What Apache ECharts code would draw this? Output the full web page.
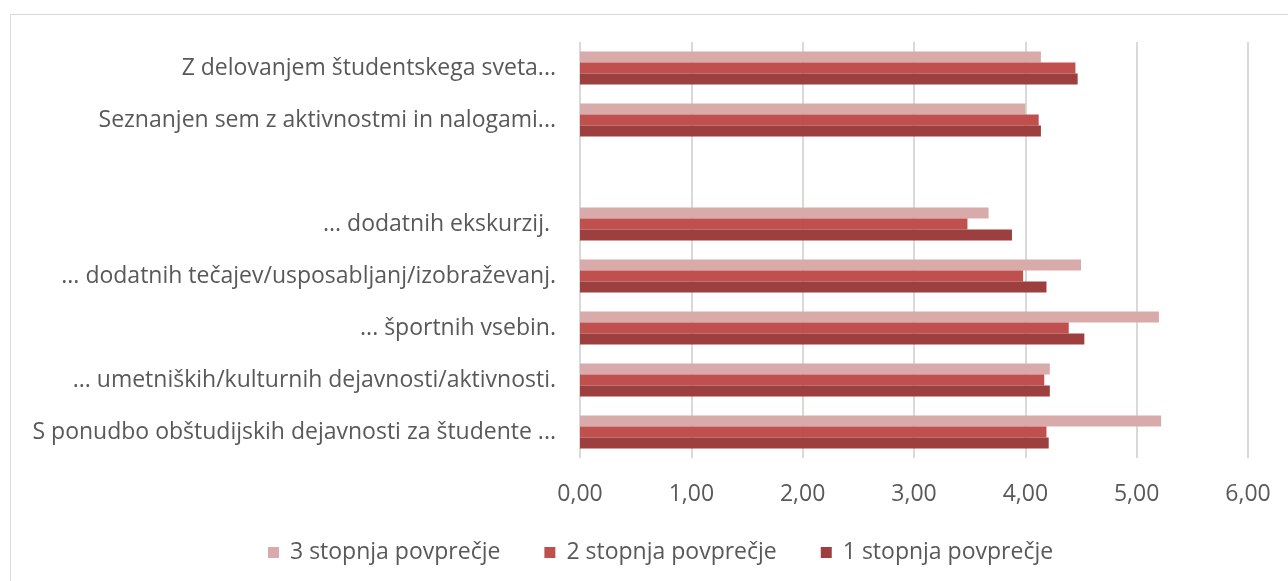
<!DOCTYPE html>
<html>
<head>
<meta charset="utf-8">
<title>Povprečja po stopnjah</title>
<script src="https://cdn.jsdelivr.net/npm/echarts@6/dist/echarts.min.js"></script>
<style>
  html, body { margin: 0; padding: 0; background: #fff; }
  #chart { width: 1288px; height: 581px; }
</style>
</head>
<body>
<div id="chart"></div>
<script>
// kategorije od spodaj navzgor (prazna vrstica je v originalu)
const categories = [
  'S ponudbo obštudijskih dejavnosti za študente ...',
  '... umetniških/kulturnih dejavnosti/aktivnosti.',
  '... športnih vsebin.',
  '... dodatnih tečajev/usposabljanj/izobraževanj.',
  '... dodatnih ekskurzij. ',
  '',
  'Seznanjen sem z aktivnostmi in nalogami...',
  'Z delovanjem študentskega sveta...'
]
const stopnja1 = [4.21, 4.22, 4.53, 4.19, 3.88, null, 4.14, 4.47]
const stopnja2 = [4.19, 4.17, 4.39, 3.98, 3.48, null, 4.12, 4.45]
const stopnja3 = [5.22, 4.22, 5.20, 4.50, 3.67, null, 4.00, 4.14]
// v echarts je prva serija zgoraj, zato 3 -> 2 -> 1
const seriesNames = ['3 stopnja povprečje', '2 stopnja povprečje', '1 stopnja povprečje']
const colors = ['#D9AAAA', '#C0504D', '#9C3F3E']

const font = 'Open Sans'
const chartInstance = echarts.init(document.getElementById('chart'))
const option = {
  animation: false,
  textStyle: { fontFamily: font },
  graphic: [
    {
      type: 'rect',
      shape: { x: 10.5, y: 14.5, width: 1300, height: 600 },
      style: { fill: 'none', stroke: '#d9d9d9', lineWidth: 1 },
      silent: true
    }
  ],
  legend: {
    data: seriesNames,
    top: 536,
    left: 263,
    itemWidth: 11,
    itemHeight: 11,
    itemGap: 44,
    icon: 'rect',
    textStyle: { fontSize: 23, color: '#595959', fontFamily: font, padding: [0, 0, 0, 6] }
  },
  grid: {
    left: 580,
    right: 40,
    top: 42,
    bottom: 123,
    containLabel: false
  },
  xAxis: {
    type: 'value',
    min: 0,
    max: 6,
    interval: 1,
    axisLine: { show: false },
    axisTick: { show: false },
    splitLine: { lineStyle: { color: '#d9d9d9', width: 2 } },
    axisLabel: {
      margin: 25,
      fontSize: 23,
      color: '#595959',
      formatter: v => v.toFixed(2).replace('.', ',')
    }
  },
  yAxis: {
    type: 'category',
    data: categories,
    axisLine: { show: false },
    axisTick: { show: false },
    axisLabel: {
      margin: 24,
      fontSize: 23,
      color: '#595959'
    }
  },
  series: [stopnja3, stopnja2, stopnja1].map((d, i) => ({
    name: seriesNames[i],
    type: 'bar',
    data: d,
    barGap: '0%',
    barCategoryGap: '37%',
    itemStyle: { color: colors[i] }
  }))
}
chartInstance.setOption(option)
</script>
</body>
</html>
